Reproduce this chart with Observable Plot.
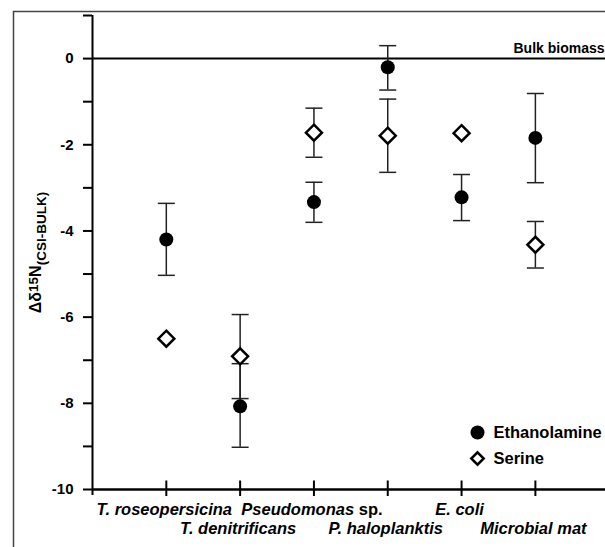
<!DOCTYPE html>
<html><head><meta charset="utf-8">
<script src="https://cdn.jsdelivr.net/npm/d3@7"></script>
<script src="https://cdn.jsdelivr.net/npm/@observablehq/plot@0.6"></script>
<style>
html,body{margin:0;padding:0;background:#fff;}
#wrap{width:605px;height:547px;overflow:hidden;font-family:"Liberation Sans",Arial,sans-serif;}
</style></head><body><div id="wrap"></div>
<script>
const categories = ["T. roseopersicina","T. denitrificans","Pseudomonas sp.","P. haloplanktis","E. coli","Microbial mat"];
const ethanolamine     = [-4.20, -8.07, -3.33, -0.20, -3.22, -1.84];
const ethanolamineLow  = [-5.03, -9.02, -3.80, -0.73, -3.76, -2.88];
const ethanolamineHigh = [-3.36, -7.08, -2.87,  0.30, -2.69, -0.81];
const serine     = [-6.50, -6.91, -1.72, -1.79, -1.73, -4.32];
const serineLow  = [null,  -7.89, -2.29, -2.64, null,  -4.86];
const serineHigh = [null,  -5.94, -1.15, -0.94, null,  -3.78];
const seriesNames = ["Ethanolamine", "Serine"];
const yTicks = [-10,-9,-8,-7,-6,-5,-4,-3,-2,-1,0,1];
const yTickLabels = [-10,-8,-6,-4,-2,0];
const yLabel = "Δδ15N(CSI-BULK)";
const refLabel = "Bulk biomass";

const yMin = -10, yMax = 1, xMin = 0, xMax = 6.95;

const rows = categories.map((c, k) => ({
  i: k + 1, cat: c,
  eth: ethanolamine[k], ethLo: ethanolamineLow[k], ethHi: ethanolamineHigh[k],
  ser: serine[k], serLo: serineLow[k], serHi: serineHigh[k]
}));
const serRows = rows.filter(d => d.serLo != null);

const capSym = {draw(ctx){ ctx.moveTo(-8.5, 0); ctx.lineTo(8.5, 0); }};
const xTickSym = {draw(ctx){ ctx.moveTo(0, -9); ctx.lineTo(0, 6.5); }};
const ink = "#000";
const barInk = "#222";

const plot = Plot.plot({
  width: 605, height: 547,
  marginLeft: 92, marginRight: 0, marginTop: 15, marginBottom: 58,
  style: {fontFamily: "'Liberation Sans', Arial, sans-serif", fontWeight: "bold", fontSize: "15px", color: ink, background: "white", overflow: "visible"},
  x: {domain: [xMin, xMax], axis: null},
  y: {domain: [yMin, yMax], axis: null},
  marks: [
    Plot.axisY({ticks: yTicks, tickSize: 9, tickPadding: 10, tickFormat: d => yTickLabels.includes(d) ? String(d) : "", strokeWidth: 2, stroke: ink, fill: ink, fontSize: 15, fontWeight: "bold"}),
    Plot.ruleX([xMin], {y1: yMin - 0.14, y2: yMax, stroke: ink, strokeWidth: 2}),
    Plot.ruleY([yMin], {stroke: ink, strokeWidth: 2.5}),
    Plot.ruleY([0], {stroke: ink, strokeWidth: 2}),
    Plot.dot(rows, {x: "i", y: () => yMin, symbol: xTickSym, stroke: ink, strokeWidth: 2, r: 5}),
    // error bars
    Plot.ruleX(rows, {x: "i", y1: "ethLo", y2: "ethHi", stroke: barInk, strokeWidth: 1.5}),
    Plot.ruleX(serRows, {x: "i", y1: "serLo", y2: "serHi", stroke: barInk, strokeWidth: 1.5}),
    Plot.dot(rows, {x: "i", y: "ethLo", symbol: capSym, stroke: barInk, strokeWidth: 1.5, r: 5}),
    Plot.dot(rows, {x: "i", y: "ethHi", symbol: capSym, stroke: barInk, strokeWidth: 1.5, r: 5}),
    Plot.dot(serRows, {x: "i", y: "serLo", symbol: capSym, stroke: barInk, strokeWidth: 1.5, r: 5}),
    Plot.dot(serRows, {x: "i", y: "serHi", symbol: capSym, stroke: barInk, strokeWidth: 1.5, r: 5}),
    // points
    Plot.dot(rows, {x: "i", y: "ser", symbol: "diamond2", r: 7.2, fill: "white", stroke: ink, strokeWidth: 2.5}),
    Plot.dot(rows, {x: "i", y: "eth", r: 7, fill: ink, stroke: "none"}),
    // category labels
    Plot.text(rows.filter(d => d.i % 2 === 1), {x: "i", y: () => yMin, text: "cat", lineAnchor: "bottom", dy: 25, dx: -2, fontSize: 16.5, fontStyle: "italic", fontWeight: "bold", fill: ink}),
    Plot.text(rows.filter(d => d.i % 2 === 0), {x: "i", y: () => yMin, text: "cat", lineAnchor: "bottom", dy: 44, dx: -2, fontSize: 16.5, fontStyle: "italic", fontWeight: "bold", fill: ink}),
    // reference label
    Plot.text([refLabel], {x: () => xMax, y: () => 0, text: d => d, textAnchor: "end", lineAnchor: "bottom", dy: -6, dx: -1, fontSize: 14, fontWeight: "bold", fill: ink}),
    // y label
    Plot.text([yLabel], {x: () => xMin, y: () => (yMin + yMax) / 2, text: d => d, rotate: -90, dx: -57, fontSize: 16, fontWeight: "bold", fill: ink}),
    // legend
    Plot.dot([seriesNames[0]], {x: () => xMax, y: () => yMin, dx: -128, dy: -57, r: 7, fill: ink, stroke: "none"}),
    Plot.dot([seriesNames[1]], {x: () => xMax, y: () => yMin, dx: -128, dy: -31, symbol: "diamond2", r: 5.6, fill: "white", stroke: ink, strokeWidth: 2.5}),
    Plot.text([seriesNames[0]], {x: () => xMax, y: () => yMin, text: d => d, dx: -112, dy: -57, textAnchor: "start", fontSize: 16.5, fontWeight: "bold", fill: ink}),
    Plot.text([seriesNames[1]], {x: () => xMax, y: () => yMin, text: d => d, dx: -112, dy: -31, textAnchor: "start", fontSize: 16.5, fontWeight: "bold", fill: ink})
  ]
});

document.getElementById("wrap").appendChild(plot);

// figure border (left and top edges of the surrounding panel frame)
d3.select(plot).append("path")
  .attr("d", "M13.5,547V11.5H605")
  .attr("fill", "none").attr("stroke", "#444").attr("stroke-width", 1.5);

// rich text: y label with super/subscript, "sp." upright
d3.select(plot).selectAll("text").each(function() {
  const t = this.textContent;
  if (t === yLabel) {
    const s = d3.select(this); s.text(null);
    s.append("tspan").text("Δδ");
    s.append("tspan").attr("font-size", 13.5).attr("dy", -3).text("15");
    s.append("tspan").attr("dy", 3).text("N");
    s.append("tspan").attr("font-size", 13.5).attr("dy", 5).text("(CSI-BULK)");
  } else if (t === "Pseudomonas sp.") {
    const s = d3.select(this); s.text(null);
    s.append("tspan").text("Pseudomonas ");
    s.append("tspan").attr("font-style", "normal").text("sp.");
  }
});
</script></body></html>
